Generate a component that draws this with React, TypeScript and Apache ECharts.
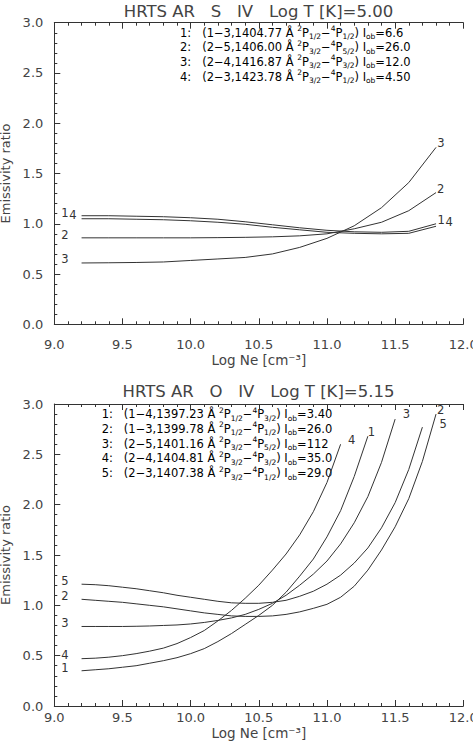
import React, { useEffect, useRef } from "react";
import * as echarts from "echarts";

// ---------------- data: S IV panel ----------------
const sivTitle = "HRTS AR   S   IV   Log T [K]=5.00";
const sivDensity = [9.2, 9.4, 9.6, 9.8, 10.0, 10.2, 10.4, 10.6, 10.8, 11.0, 11.2, 11.4, 11.6, 11.8];
const sivRatio1 = [1.08, 1.08, 1.075, 1.07, 1.06, 1.045, 1.02, 0.99, 0.96, 0.935, 0.92, 0.915, 0.925, 1.0];
const sivRatio2 = [0.86, 0.86, 0.86, 0.86, 0.86, 0.862, 0.865, 0.87, 0.88, 0.9, 0.95, 1.015, 1.13, 1.31];
const sivRatio3 = [0.61, 0.612, 0.615, 0.62, 0.635, 0.65, 0.665, 0.7, 0.765, 0.855, 0.98, 1.16, 1.41, 1.76];
const sivRatio4 = [1.05, 1.05, 1.045, 1.04, 1.03, 1.015, 0.995, 0.965, 0.94, 0.915, 0.905, 0.9, 0.905, 0.975];
const sivIds = ["1", "2", "3", "4"];
const sivTransitions = ["1−3", "2−5", "2−4", "2−3"];
const sivWavelengths = ["1404.77", "1406.00", "1416.87", "1423.78"];
const sivUpperJ = ["1/2", "3/2", "3/2", "3/2"];
const sivLowerJ = ["1/2", "5/2", "3/2", "1/2"];
const sivIob = ["6.6", "26.0", "12.0", "4.50"];

// ---------------- data: O IV panel ----------------
const oivTitle = "HRTS AR   O   IV   Log T [K]=5.15";
const oivDensity = [
  9.2, 9.3, 9.4, 9.5, 9.6, 9.7, 9.8, 9.9, 10.0, 10.1, 10.2, 10.3, 10.4, 10.5,
  10.6, 10.7, 10.8, 10.9, 11.0, 11.1, 11.2, 11.3, 11.4, 11.5, 11.6, 11.7, 11.8,
];
const oivRatio1 = [0.35, 0.36, 0.37, 0.385, 0.4, 0.425, 0.45, 0.48, 0.52, 0.57, 0.64, 0.72, 0.81, 0.9, 1.0, 1.13, 1.29, 1.46, 1.68, 1.94, 2.28, 2.68];
const oivRatio2 = [1.06, 1.05, 1.04, 1.03, 1.015, 1.0, 0.985, 0.965, 0.945, 0.925, 0.91, 0.895, 0.89, 0.89, 0.895, 0.91, 0.935, 0.97, 1.01, 1.08, 1.19, 1.35, 1.55, 1.78, 2.06, 2.43, 2.9];
const oivRatio3 = [0.79, 0.79, 0.79, 0.79, 0.792, 0.795, 0.8, 0.805, 0.815, 0.83, 0.85, 0.875, 0.91, 0.96, 1.02, 1.1, 1.2, 1.31, 1.44, 1.61, 1.82, 2.08, 2.42, 2.85];
const oivRatio4 = [0.47, 0.475, 0.485, 0.5, 0.52, 0.545, 0.575, 0.62, 0.68, 0.75, 0.845, 0.95, 1.07, 1.2, 1.35, 1.51, 1.7, 1.93, 2.22, 2.6];
const oivRatio5 = [1.21, 1.205, 1.195, 1.18, 1.165, 1.145, 1.125, 1.1, 1.08, 1.06, 1.04, 1.025, 1.02, 1.02, 1.03, 1.05, 1.09, 1.14, 1.21, 1.3, 1.42, 1.57, 1.77, 2.02, 2.35, 2.77];
const oivIds = ["1", "2", "3", "4", "5"];
const oivTransitions = ["1−4", "1−3", "2−5", "2−4", "2−3"];
const oivWavelengths = ["1397.23", "1399.78", "1401.16", "1404.81", "1407.38"];
const oivUpperJ = ["1/2", "1/2", "3/2", "3/2", "3/2"];
const oivLowerJ = ["3/2", "1/2", "5/2", "3/2", "1/2"];
const oivIob = ["3.40", "26.0", "112", "35.0", "29.0"];

// ---------------- axes ----------------
const densityMin = 9.0;
const densityMax = 12.0;
const densityStep = 0.5;
const ratioMin = 0.0;
const ratioMax = 3.0;
const ratioStep = 0.5;
const xAxisName = "Log Ne [cm⁻³]";
const yAxisName = "Emissivity ratio";

// ---------------- styling ----------------
const FONT = "DejaVu Sans";
const INK = "#333";
const TEXT = "#444";

// label placement (distance, vertical shift) per curve, start / end
const sivStartPlace = [[13, -3], [13, -3], [13, -4], [5, -4]];
const sivEndPlace = [[1.5, -4], [1, -4], [1.2, -4], [9.5, -4]];
const oivStartPlace = [[13, -3], [13, -3], [13, -3], [13, -4], [13, -3]];
const oivEndPlace = [[0, -4], [1, -4], [7.5, -5], [7.5, -4], [17, -3]];

const grids = [
  { left: 54.3, top: 22.7, width: 409, height: 301.6 },
  { left: 54.3, top: 404, width: 409, height: 302 },
];

function labelStyle(id: string, pos: string, place: number[]) {
  return {
    show: true,
    position: pos,
    distance: place[0],
    offset: [0, place[1]],
    formatter: id,
    fontFamily: FONT,
    fontSize: 11.5,
    color: INK,
  };
}

function buildSeries(
  density: number[],
  ratios: number[][],
  ids: string[],
  gridIdx: number,
  startPlace: number[][],
  endPlace: number[][]
) {
  return ratios.map((vals, k) => ({
    type: "line",
    name: ids[k],
    xAxisIndex: gridIdx * 2,
    yAxisIndex: gridIdx,
    symbol: "none",
    showSymbol: true,
    silent: true,
    clip: false,
    lineStyle: { color: INK, width: 1 },
    itemStyle: { color: "transparent" },
    data: vals.map((v, i) => {
      const point = [density[i], v];
      if (i === 0) {
        return {
          value: point,
          symbol: "circle",
          symbolSize: 0,
          label: labelStyle(ids[k], "left", startPlace[k]),
        };
      }
      if (i === vals.length - 1) {
        return {
          value: point,
          symbol: "circle",
          symbolSize: 0,
          label: labelStyle(ids[k], "right", endPlace[k]),
        };
      }
      return point;
    }),
  }));
}

function legendText(
  id: string,
  trans: string,
  wl: string,
  ju: string,
  jl: string,
  iob: string
) {
  return (
    `{n|${id}:   (${trans},${wl} Å }{sup|2}{n|P}{sub|${ju}}{n|−}{sup|4}{n|P}{sub|${jl}}` +
    `{n|) I}{sub|ob}{n|=${iob}}`
  );
}

const legendRich = {
  n: { fontFamily: FONT, fontSize: 11.5, color: INK, lineHeight: 16 },
  sup: { fontFamily: FONT, fontSize: 7.5, color: INK, lineHeight: 16, verticalAlign: "top" },
  sub: { fontFamily: FONT, fontSize: 7.5, color: INK, lineHeight: 16, verticalAlign: "bottom" },
};

function buildLegend(
  ids: string[],
  trans: string[],
  wls: string[],
  ju: string[],
  jl: string[],
  iob: string[],
  x: number,
  y0: number,
  dy: number
) {
  return ids.map((id, k) => ({
    type: "text",
    x,
    y: y0 + k * dy,
    silent: true,
    style: {
      text: legendText(id, trans[k], wls[k], ju[k], jl[k], iob[k]),
      rich: legendRich,
      verticalAlign: "middle",
      align: "left",
    },
  }));
}

function xAxes(gridIndex: number, nameGap: number, labelMargin: number) {
  const common = {
    gridIndex,
    type: "value",
    min: densityMin,
    max: densityMax,
    interval: densityStep,
    splitLine: { show: false },
    axisLine: { show: true, onZero: false, lineStyle: { color: INK, width: 1 } },
    axisTick: { show: true, inside: true, length: 6, lineStyle: { color: INK } },
    minorTick: { show: true, splitNumber: 5, length: 3, lineStyle: { color: INK } },
  };
  return [
    {
      ...common,
      position: "bottom",
      name: xAxisName,
      nameLocation: "middle",
      nameGap,
      nameTextStyle: { fontFamily: FONT, fontSize: 13.5, color: TEXT },
      axisLabel: {
        show: true,
        margin: labelMargin,
        fontFamily: FONT,
        fontSize: 13,
        color: TEXT,
        showMinLabel: true,
        showMaxLabel: true,
        formatter: (v: number) => v.toFixed(1),
      },
    },
    {
      ...common,
      position: "top",
      axisLabel: { show: false },
    },
  ];
}

function yAxis(gridIndex: number) {
  return {
    gridIndex,
    type: "value",
    min: ratioMin,
    max: ratioMax,
    interval: ratioStep,
    position: "left",
    splitLine: { show: false },
    axisLine: { show: true, onZero: false, lineStyle: { color: INK, width: 1 } },
    axisTick: { show: true, inside: true, length: 6, lineStyle: { color: INK } },
    minorTick: { show: true, splitNumber: 5, length: 3, lineStyle: { color: INK } },
    name: yAxisName,
    nameLocation: "middle",
    nameGap: 36,
    nameRotate: 90,
    nameTextStyle: { fontFamily: FONT, fontSize: 13, color: TEXT },
    axisLabel: {
      show: true,
      margin: 11,
      fontFamily: FONT,
      fontSize: 13,
      color: TEXT,
      showMinLabel: true,
      showMaxLabel: true,
      formatter: (v: number) => v.toFixed(1),
    },
  };
}

export default function App() {
  const ref = useRef<HTMLDivElement>(null);

  useEffect(() => {
    if (!ref.current) return;
    const chart = echarts.init(ref.current, undefined, { renderer: "svg" });

    const series = [
      ...buildSeries(
        sivDensity,
        [sivRatio1, sivRatio2, sivRatio3, sivRatio4],
        sivIds,
        0,
        sivStartPlace,
        sivEndPlace
      ),
      ...buildSeries(
        oivDensity,
        [oivRatio1, oivRatio2, oivRatio3, oivRatio4, oivRatio5],
        oivIds,
        1,
        oivStartPlace,
        oivEndPlace
      ),
    ];

    const titleStyle = {
      fontFamily: FONT,
      fontSize: 16.5,
      fill: TEXT,
      align: "center",
      verticalAlign: "middle",
    };

    chart.setOption({
      animation: false,
      backgroundColor: "#fff",
      grid: grids.map((g) => ({ ...g, containLabel: false, outerBoundsMode: "none" })),
      xAxis: [...xAxes(0, 29, 14), ...xAxes(1, 20, 5)],
      yAxis: [yAxis(0), yAxis(1)],
      series,
      graphic: [
        { type: "text", x: 258.5, y: 11, silent: true, style: { ...titleStyle, text: sivTitle } },
        { type: "text", x: 258.5, y: 391, silent: true, style: { ...titleStyle, text: oivTitle } },
        ...buildLegend(sivIds, sivTransitions, sivWavelengths, sivUpperJ, sivLowerJ, sivIob, 180, 32.5, 14.7),
        ...buildLegend(oivIds, oivTransitions, oivWavelengths, oivUpperJ, oivLowerJ, oivIob, 101.7, 414, 14.8),
      ],
    });

    return () => {
      chart.dispose();
    };
  }, []);

  return (
    <div
      ref={ref}
      style={{
        position: "fixed",
        left: 0,
        top: 0,
        width: 473,
        height: 749,
        background: "#fff",
      }}
    />
  );
}
